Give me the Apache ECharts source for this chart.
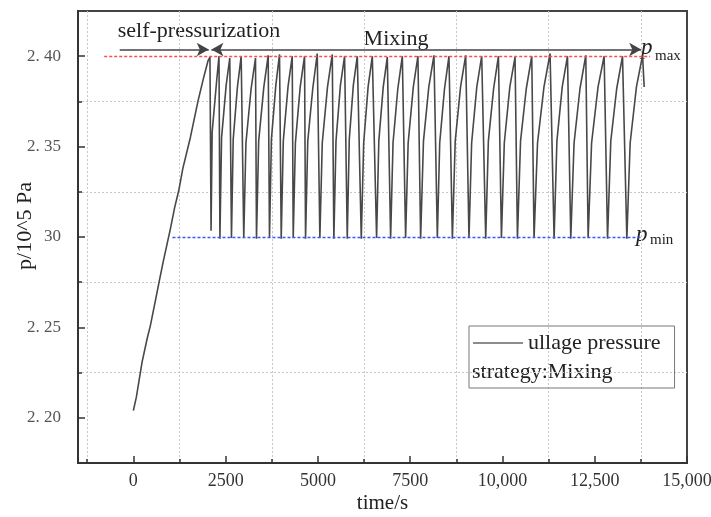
<!DOCTYPE html>
<html>
<head>
<meta charset="utf-8">
<script src="https://cdn.jsdelivr.net/npm/echarts@6/dist/echarts.min.js"></script>
<style>
html,body{margin:0;padding:0;background:#fff;}
#chart{width:711px;height:517px;}
</style>
</head>
<body>
<div id="chart"></div>
<script>
// Self-pressurization phase: time (s) and ullage pressure (10^5 Pa)
const selfTime = [0, 81, 236, 371, 461, 597, 714, 805, 914, 1003, 1121, 1230, 1338, 1546, 1754, 1907, 2025, 2075];
const selfP = [2.204, 2.2114, 2.2308, 2.2436, 2.251, 2.2648, 2.2768, 2.286, 2.2962, 2.3045, 2.3165, 2.3257, 2.3377, 2.3552, 2.3754, 2.3884, 2.3976, 2.3995];

// Mixing phase, one entry per cycle: trough after mixing, two points on the recovery, next peak
const bottomTime = [2105, 2345, 2658, 2991, 3336, 3688, 4006, 4331, 4665, 5053, 5432, 5795, 6175, 6590, 6970, 7376, 7783, 8236, 8643, 9093, 9546, 9972, 10406, 10856, 11399, 11851, 12321, 12847, 13370];
const bottomP = [2.3035, 2.299, 2.2995, 2.2995, 2.299, 2.2995, 2.299, 2.2995, 2.299, 2.2995, 2.299, 2.299, 2.299, 2.2995, 2.299, 2.2995, 2.299, 2.2995, 2.299, 2.2995, 2.299, 2.2995, 2.299, 2.2995, 2.299, 2.299, 2.2995, 2.299, 2.299];
const rise1Time = [2135, 2390, 2705, 3050, 3395, 3740, 4062, 4390, 4725, 5118, 5490, 5850, 6240, 6650, 7035, 7445, 7860, 8300, 8720, 9165, 9618, 10050, 10490, 10950, 11475, 11940, 12415, 12935, 13460];
const rise1P = [2.358, 2.355, 2.354, 2.352, 2.353, 2.354, 2.353, 2.352, 2.353, 2.352, 2.353, 2.354, 2.352, 2.353, 2.352, 2.352, 2.353, 2.352, 2.353, 2.352, 2.353, 2.352, 2.353, 2.352, 2.353, 2.352, 2.352, 2.353, 2.352];
const rise2Time = [2255, 2515, 2820, 3190, 3535, 3860, 4190, 4520, 4860, 5260, 5610, 5960, 6360, 6770, 7165, 7585, 8005, 8430, 8865, 9305, 9760, 10200, 10645, 11125, 11620, 12100, 12590, 13095, 13630];
const rise2P = [2.386, 2.384, 2.383, 2.382, 2.383, 2.384, 2.383, 2.383, 2.382, 2.383, 2.384, 2.384, 2.383, 2.383, 2.382, 2.383, 2.383, 2.382, 2.383, 2.383, 2.382, 2.383, 2.382, 2.383, 2.383, 2.382, 2.383, 2.382, 2.383];
const peakTime = [2320, 2612, 2921, 3309, 3653, 3960, 4304, 4638, 4982, 5389, 5723, 6067, 6474, 6880, 7287, 7710, 8144, 8551, 9004, 9438, 9891, 10341, 10794, 11290, 11762, 12258, 12755, 13253, 13796];
const peakP = [2.400, 2.399, 2.400, 2.399, 2.4005, 2.401, 2.400, 2.400, 2.4015, 2.401, 2.400, 2.400, 2.400, 2.3995, 2.400, 2.400, 2.4005, 2.400, 2.4005, 2.400, 2.400, 2.3995, 2.400, 2.4015, 2.400, 2.4005, 2.400, 2.400, 2.4005];
const tailTime = [13840];
const tailP = [2.383];

// Axis ticks
const xMajorTicks = [0, 2500, 5000, 7500, 10000, 12500, 15000];
const xMinorTicks = [-1250, 1250, 3750, 6250, 8750, 11250, 13750];
const yMajorTicks = [2.20, 2.25, 2.30, 2.35, 2.40];
const yMinorTicks = [2.225, 2.275, 2.325, 2.375];

// Control band
const pMax = 2.40;
const pMin = 2.30;

const seriesName = 'ullage pressure';
const serif = 'Liberation Serif';

const points = [];
selfTime.forEach((t, i) => points.push([t, selfP[i]]));
bottomTime.forEach((t, i) => {
  points.push([t, bottomP[i]]);
  points.push([rise1Time[i], rise1P[i]]);
  points.push([rise2Time[i], rise2P[i]]);
  points.push([peakTime[i], peakP[i]]);
});
tailTime.forEach((t, i) => points.push([t, tailP[i]]));

function xLabel(v) {
  if (v >= 10000) {
    const s = String(v);
    return s.slice(0, s.length - 3) + ',' + s.slice(s.length - 3);
  }
  return String(v);
}
function yLabel(v) {
  const s = v.toFixed(2);
  if (s === '2.30') return '30';
  return s.replace('.', '. ');
}

const tickLine = { color: '#333', width: 1.5 };
const gridDots = { color: '#c8c8c8', type: [2, 2], width: 1 };
const arrowY = 2.4037;
const arrowLine = { color: '#444', width: 1.5, type: 'solid' };
const arrowSize = [10, 12];
const maxLine = { color: '#ff4d4d', width: 1.4, type: [3, 2] };
const minLine = { color: '#3f55ee', width: 1.4, type: [3, 2] };

const chart = echarts.init(document.getElementById('chart'), null, { renderer: 'canvas' });
chart.setOption({
  animation: false,
  backgroundColor: '#fff',
  grid: {
    left: 78, top: 11, right: 24, bottom: 54,
    containLabel: false, outerBoundsMode: 'none',
    show: true, borderColor: '#444', borderWidth: 2
  },
  xAxis: [
    {
      type: 'value', min: -1500, max: 15000, position: 'bottom',
      axisLine: { show: true, onZero: false, lineStyle: { color: '#333', width: 2 } },
      axisTick: { show: true, inside: true, length: 7, customValues: xMajorTicks, lineStyle: tickLine },
      axisLabel: { customValues: xMajorTicks, formatter: xLabel, color: '#333', fontFamily: serif, fontSize: 18, margin: 9 },
      splitLine: { show: false },
      name: 'time/s', nameLocation: 'middle', nameGap: 30, nameMoveOverlap: false,
      nameTextStyle: { fontFamily: serif, fontSize: 21, color: '#222' }
    },
    {
      type: 'value', min: -1500, max: 15000, position: 'bottom',
      axisLine: { show: false, onZero: false },
      axisTick: { show: true, inside: true, length: 4, customValues: xMinorTicks, lineStyle: tickLine },
      axisLabel: { show: false },
      splitLine: { show: true, lineStyle: gridDots }
    }
  ],
  yAxis: [
    {
      type: 'value', min: 2.175, max: 2.425, position: 'left',
      axisLine: { show: true, onZero: false, lineStyle: { color: '#333', width: 2 } },
      axisTick: { show: true, inside: true, length: 7, customValues: yMajorTicks, lineStyle: tickLine },
      axisLabel: { customValues: yMajorTicks, formatter: yLabel, color: '#555', fontFamily: serif, fontSize: 17, margin: 17 },
      splitLine: { show: false },
      name: 'p/10^5 Pa', nameLocation: 'middle', nameGap: 42, nameMoveOverlap: false,
      nameTextStyle: { fontFamily: serif, fontSize: 22, color: '#222', padding: [0, 0, 0, 22] }
    },
    {
      type: 'value', min: 2.175, max: 2.425, position: 'left',
      axisLine: { show: false, onZero: false },
      axisTick: { show: true, inside: true, length: 4, customValues: yMinorTicks, lineStyle: tickLine },
      axisLabel: { show: false },
      splitLine: { show: true, lineStyle: gridDots }
    }
  ],
  legend: {
    data: [{ name: seriesName, icon: 'rect' }],
    orient: 'vertical',
    left: 469, top: 326,
    padding: [6, 14, 34, 4],
    itemWidth: 50, itemHeight: 1.3,
    itemGap: 6,
    borderColor: '#777', borderWidth: 1,
    itemStyle: { color: '#666' },
    textStyle: { fontFamily: serif, fontSize: 22, color: '#222' }
  },
  series: [
    {
      name: seriesName,
      type: 'line',
      xAxisIndex: 0, yAxisIndex: 0,
      data: points,
      symbol: 'none',
      lineStyle: { color: '#484848', width: 1.6 },
      itemStyle: { color: '#666' },
      markLine: {
        silent: true,
        animation: false,
        label: { show: false },
        emphasis: { disabled: true },
        data: [
          [
            { coord: [-790, pMax], symbol: 'none', lineStyle: maxLine },
            { coord: [14000, pMax], symbol: 'none' }
          ],
          [
            { coord: [1060, pMin], symbol: 'none', lineStyle: minLine },
            { coord: [13750, pMin], symbol: 'none' }
          ],
          [
            { coord: [-370, arrowY], symbol: 'none', lineStyle: arrowLine },
            { coord: [2043, arrowY], symbol: 'arrow', symbolSize: arrowSize }
          ],
          [
            { coord: [2115, arrowY], symbol: 'arrow', symbolSize: arrowSize, lineStyle: arrowLine },
            { coord: [13760, arrowY], symbol: 'arrow', symbolSize: arrowSize }
          ]
        ]
      }
    }
  ],
  graphic: [
    { type: 'text', x: 199, y: 31, style: { text: 'self-pressurization', fontFamily: serif, fontSize: 22, fill: '#222', align: 'center', verticalAlign: 'middle' } },
    { type: 'text', x: 396, y: 39, style: { text: 'Mixing', fontFamily: serif, fontSize: 22, fill: '#222', align: 'center', verticalAlign: 'middle' } },
    { type: 'text', x: 641, y: 48, style: { text: 'p', fontFamily: serif, fontSize: 23, fontStyle: 'italic', fill: '#222', align: 'left', verticalAlign: 'middle' } },
    { type: 'text', x: 655, y: 56, style: { text: 'max', fontFamily: serif, fontSize: 15, fill: '#222', align: 'left', verticalAlign: 'middle' } },
    { type: 'text', x: 636, y: 235, style: { text: 'p', fontFamily: serif, fontSize: 23, fontStyle: 'italic', fill: '#222', align: 'left', verticalAlign: 'middle' } },
    { type: 'text', x: 650, y: 240, style: { text: 'min', fontFamily: serif, fontSize: 15, fill: '#222', align: 'left', verticalAlign: 'middle' } },
    { type: 'text', x: 472, y: 372, style: { text: 'strategy:Mixing', fontFamily: serif, fontSize: 22, fill: '#222', align: 'left', verticalAlign: 'middle' } }
  ]
});
</script>
</body>
</html>
